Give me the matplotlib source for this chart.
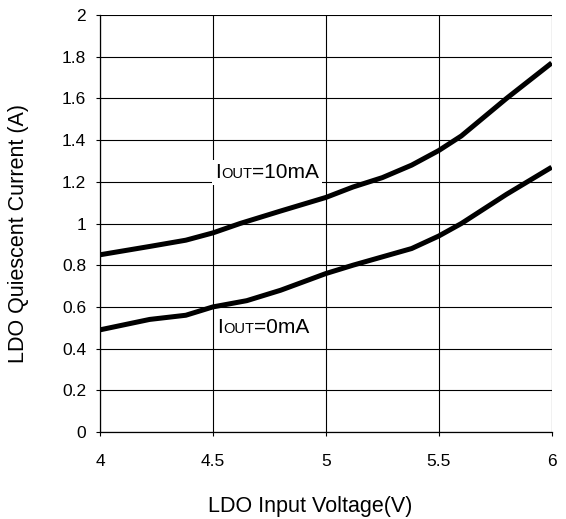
import matplotlib
matplotlib.use("Agg")
import matplotlib.pyplot as plt
from matplotlib.offsetbox import TextArea, HPacker, AnnotationBbox

plt.rcParams['font.family'] = ['Liberation Sans', 'DejaVu Sans']

vin = [4.0, 4.22, 4.38, 4.5, 4.62, 4.8, 5.0, 5.12, 5.25, 5.38, 5.5, 5.6, 5.8, 6.0]
iq_10mA = [0.85, 0.89, 0.92, 0.955, 1.0, 1.06, 1.125, 1.175, 1.22, 1.28, 1.35, 1.42, 1.6, 1.77]
vin0 = [4.0, 4.22, 4.38, 4.5, 4.65, 4.8, 5.0, 5.12, 5.25, 5.38, 5.5, 5.6, 5.8, 6.0]
iq_0mA = [0.49, 0.54, 0.56, 0.60, 0.63, 0.68, 0.76, 0.80, 0.84, 0.88, 0.94, 1.0, 1.14, 1.27]
xticks = [4, 4.5, 5, 5.5, 6]
xticklabels = ['4', '4.5', '5', '5.5', '6']
yticks = [0, 0.2, 0.4, 0.6, 0.8, 1.0, 1.2, 1.4, 1.6, 1.8, 2.0]
yticklabels = ['0', '0.2', '0.4', '0.6', '0.8', '1', '1.2', '1.4', '1.6', '1.8', '2']

fig = plt.figure(figsize=(5.66, 5.19), dpi=100)
ax = fig.add_axes([0.1767, 0.1676, 0.798, 0.8035])
ax.set_xlim(4, 6)
ax.set_ylim(0, 2)
ax.set_xticks(xticks)
ax.set_xticklabels(xticklabels)
ax.set_yticks(yticks)
ax.set_yticklabels(yticklabels)
ax.grid(True, color='black', linewidth=0.8)
for s in ['top', 'right']:
    ax.spines[s].set_visible(False)
for s in ['left', 'bottom']:
    ax.spines[s].set_linewidth(0.9)
ax.tick_params(direction='out', length=3, width=0.8, labelsize=12.5)
ax.tick_params(axis='x', pad=13)
ax.tick_params(axis='y', pad=7)

ax.plot(vin, iq_10mA, color='black', linewidth=3.6, solid_capstyle='butt')
ax.plot(vin0, iq_0mA, color='black', linewidth=3.6, solid_capstyle='butt')

def label(main, x, y):
    parts = [TextArea('I', textprops=dict(size=15)),
             TextArea('OUT', textprops=dict(size=10.5)),
             TextArea(main, textprops=dict(size=15))]
    box = HPacker(children=parts, align='baseline', pad=0, sep=0)
    ab = AnnotationBbox(box, (x, y), xycoords='data', box_alignment=(0, 0.5),
                        frameon=True, pad=0.2,
                        bboxprops=dict(facecolor='white', edgecolor='none'))
    ax.add_artist(ab)

label('=10mA', 4.51, 1.245)
label('=0mA', 4.52, 0.5)

ax.set_xlabel('LDO Input Voltage(V)', fontsize=15.5)
ax.set_ylabel('LDO Quiescent Current (A)', fontsize=15.5)
ax.xaxis.set_label_coords(0.465, -0.153)
ax.yaxis.set_label_coords(-0.157, 0.475)

fig.savefig('out.png', dpi=100)
